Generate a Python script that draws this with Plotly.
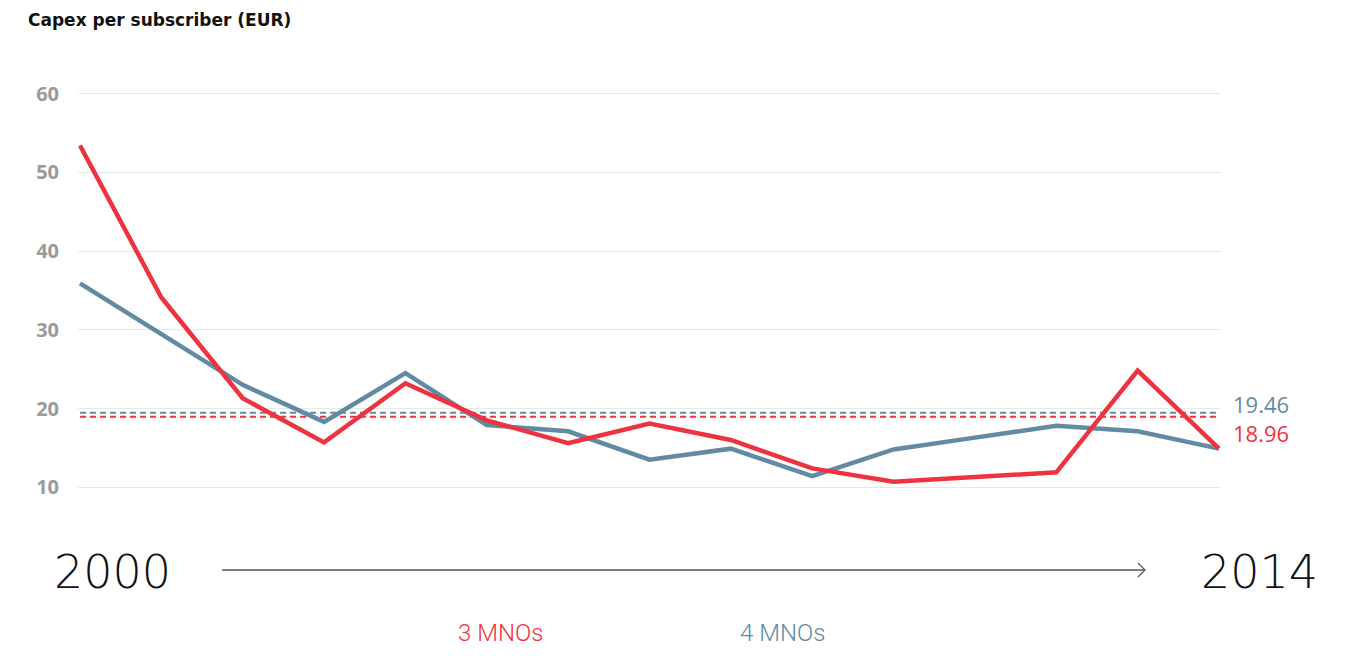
import plotly.graph_objects as go

years = list(range(2000, 2015))
mno3 = [53.4, 34.1, 21.3, 15.7, 23.2, 18.5, 15.6, 18.1, 16.0, 12.4, 10.7, 11.3, 11.9, 24.8, 14.9]
mno4 = [35.9, 29.5, 23.0, 18.3, 24.5, 17.9, 17.1, 13.5, 14.9, 11.4, 14.8, 16.3, 17.8, 17.1, 14.9]
avg3 = 18.96
avg4 = 19.46
y_ticks = [10, 20, 30, 40, 50, 60]

red = '#ee3340'
blue = '#628aa3'

# plot area in page pixels: x 78..1221, y 62..503 (page has an 8px body margin)
def px(x):
    return (x - 78) / 1143


def py(y):
    return (503 - y) / 441


fig = go.Figure()

fig.add_trace(go.Scatter(
    x=[years[0], years[-1]], y=[avg4, avg4], mode='lines',
    line=dict(color=blue, width=2, dash='6px,4px'), hoverinfo='skip'
))
fig.add_trace(go.Scatter(
    x=[years[0], years[-1]], y=[avg3, avg3], mode='lines',
    line=dict(color=red, width=2, dash='6px,4px'), hoverinfo='skip'
))
fig.add_trace(go.Scatter(
    x=years, y=mno4, mode='lines', name='4 MNOs',
    line=dict(color=blue, width=4.5)
))
fig.add_trace(go.Scatter(
    x=years, y=mno3, mode='lines', name='3 MNOs',
    line=dict(color=red, width=4.5)
))

# average labels on the right
fig.add_annotation(x=years[-1], y=avg4, xref='x', yref='y', text=f'{avg4:.2f}',
                   showarrow=False, xanchor='left', xshift=12, yshift=9,
                   font=dict(family='Open Sans', size=22, color=blue))
fig.add_annotation(x=years[-1], y=avg3, xref='x', yref='y', text=f'{avg3:.2f}',
                   showarrow=False, xanchor='left', xshift=12, yshift=-16,
                   font=dict(family='Open Sans', size=22, color=red))

# title
fig.add_annotation(x=px(26), y=py(20), xref='paper', yref='paper', text='Capex per subscriber (EUR)',
                   showarrow=False, xanchor='left', yanchor='middle',
                   font=dict(family='DejaVu Sans', size=17, color='#111111', weight=600))

# years + arrow
year_font = dict(family='DejaVu Sans', size=46, color='#111111', weight=200)
fig.add_annotation(x=px(112), y=py(572), xref='paper', yref='paper',
                   text=str(years[0]), showarrow=False, xanchor='center', yanchor='middle',
                   font=year_font)
fig.add_annotation(x=px(1259), y=py(572), xref='paper', yref='paper',
                   text=str(years[-1]), showarrow=False, xanchor='center', yanchor='middle',
                   font=year_font)

fig.add_shape(type='line', xref='paper', yref='paper',
              x0=px(222), x1=px(1145), y0=py(570), y1=py(570),
              line=dict(color='#555555', width=1.5))
fig.add_shape(type='path', xref='paper', yref='paper',
              xsizemode='pixel', ysizemode='pixel', xanchor=px(1145), yanchor=py(570),
              path='M -7 -7 L 0 0 L -7 7',
              line=dict(color='#555555', width=1.2))

# legend-like labels
fig.add_annotation(x=px(500), y=py(633), xref='paper', yref='paper',
                   text='3 MNOs', showarrow=False, xanchor='center', yanchor='middle',
                   font=dict(family='Roboto', size=24, color=red, weight=300))
fig.add_annotation(x=px(782), y=py(633), xref='paper', yref='paper',
                   text='4 MNOs', showarrow=False, xanchor='center', yanchor='middle',
                   font=dict(family='Roboto', size=24, color=blue, weight=300))

fig.update_layout(
    width=1358,
    height=652,
    showlegend=False,
    plot_bgcolor='white',
    paper_bgcolor='white',
    margin=dict(l=70, r=145, t=54, b=157, autoexpand=False),
    xaxis=dict(
        range=[years[0] - 2 / 81.4, years[-1] + 2 / 81.4],
        showgrid=False, zeroline=False, showticklabels=False, showline=False
    ),
    yaxis=dict(
        range=[8, 64],
        tickvals=y_ticks,
        showgrid=True, gridcolor='#e4ebe4', gridwidth=1,
        zeroline=False, showline=False,
        ticks='', ticklabelstandoff=18,
        tickfont=dict(family='Open Sans', size=20, color='#9a9a9a', weight=700)
    )
)

fig.write_html("out.html")
